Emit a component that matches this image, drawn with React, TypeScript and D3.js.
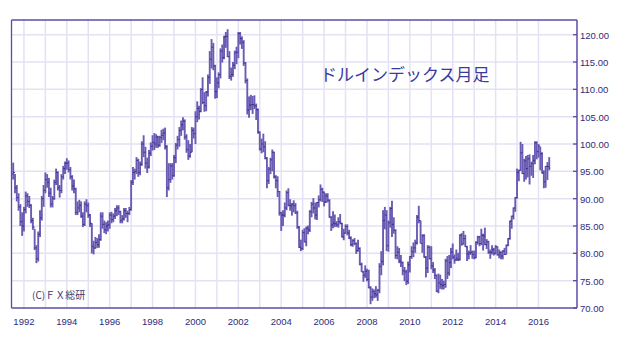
import React from "react";
import * as d3 from "d3";

// Monthly bars of the dollar index, July 1991 .. July 2016 (month start positions)
const startYear = 1991;
const startMonth = 7;
const firstOpen = 94.5;

const highs: number[] = [
  96.6, 94.5, 92.5, 91.0, 89.0, 87.5, // 1991 Jul-Dec
  88.5, 91.3, 91.0, 90.5, 89.0, 86.5, 84.5, 81.5, 84.0, 87.9, 90.5, 92.5, // 1992
  94.8, 94.5, 93.8, 92.0, 90.5, 93.5, 95.5, 95.0, 92.5, 94.5, 96.0, 96.8, // 1993
  97.4, 97.0, 95.8, 94.3, 93.5, 92.0, 89.5, 89.8, 89.5, 87.5, 89.5, 89.9, // 1994
  89.3, 87.2, 85.5, 82.3, 83.0, 82.8, 83.5, 87.5, 87.5, 86.0, 85.7, 86.0, // 1995
  87.5, 87.6, 87.3, 88.3, 88.8, 88.8, 87.8, 87.0, 88.3, 88.3, 87.8, 88.5, // 1996
  93.4, 95.8, 95.5, 97.6, 97.3, 96.8, 100.5, 101.6, 99.5, 97.5, 98.9, 100.3, // 1997
  101.6, 102.0, 101.8, 101.5, 101.5, 102.6, 102.8, 103.0, 99.8, 96.5, 96.5, 96.5, // 1998
  98.0, 100.2, 101.5, 103.1, 104.3, 104.9, 104.5, 101.8, 100.7, 100.0, 103.1, 103.0, // 1999
  106.0, 107.8, 107.0, 110.2, 112.2, 109.5, 109.7, 112.7, 117.0, 119.2, 118.5, 114.5, // 2000
  112.2, 113.1, 117.5, 118.2, 119.8, 120.5, 121.0, 117.0, 114.0, 115.0, 117.1, 117.8, // 2001
  120.5, 120.5, 119.7, 119.0, 115.0, 112.0, 108.7, 109.0, 108.8, 108.9, 107.4, 106.5, // 2002
  102.3, 101.0, 101.9, 100.5, 97.6, 95.8, 97.5, 99.0, 98.6, 94.3, 94.1, 91.4, // 2003
  87.6, 87.9, 89.3, 91.5, 91.9, 89.9, 89.2, 89.7, 89.2, 87.8, 85.0, 82.5, // 2004
  84.3, 84.6, 84.9, 85.1, 87.9, 89.4, 90.1, 89.3, 89.4, 90.6, 92.6, 92.0, // 2005
  91.3, 91.0, 91.0, 89.9, 86.8, 87.7, 87.1, 85.9, 86.6, 87.2, 85.6, 84.5, // 2006
  85.3, 85.3, 84.3, 83.1, 82.6, 82.8, 82.0, 82.5, 81.1, 78.3, 76.8, 77.8, // 2007
  77.2, 77.0, 74.0, 73.6, 73.4, 74.0, 73.5, 78.2, 80.4, 87.9, 88.5, 87.9, // 2008
  86.0, 88.5, 89.6, 86.6, 84.4, 81.3, 81.0, 79.7, 78.5, 77.5, 77.0, 78.5, // 2009
  79.5, 81.3, 82.0, 82.5, 87.0, 88.7, 86.0, 83.5, 83.5, 79.5, 81.5, 81.4, // 2010
  81.3, 78.4, 77.3, 76.1, 76.3, 76.1, 75.3, 75.0, 79.0, 79.5, 79.7, 81.0, // 2011
  81.8, 79.8, 80.7, 80.1, 83.5, 83.7, 84.1, 83.4, 81.4, 80.5, 81.5, 80.5, // 2012
  80.5, 82.2, 83.2, 83.2, 84.5, 83.6, 84.7, 82.6, 82.3, 80.7, 81.5, 81.0, // 2013
  81.5, 81.3, 80.7, 80.4, 80.6, 81.0, 81.6, 82.8, 86.0, 86.9, 88.4, 90.3, // 2014
  95.5, 95.3, 100.4, 100.0, 97.3, 97.8, 98.0, 98.1, 96.8, 98.0, 100.5, 100.5, // 2015
  100.0, 99.5, 98.5, 95.2, 96.0, 96.7, 97.6, // 2016 Jan-Jul
];

const lows: number[] = [
  93.5, 91.0, 89.5, 87.8, 85.0, 83.2, // 1991
  84.0, 87.3, 88.5, 88.3, 85.5, 84.3, 80.6, 78.2, 78.5, 83.0, 86.0, 88.5, // 1992
  91.0, 92.0, 90.3, 88.4, 88.4, 89.8, 92.5, 91.5, 90.2, 91.0, 93.5, 94.5, // 1993
  95.3, 94.8, 93.5, 91.5, 91.0, 87.0, 87.0, 87.5, 86.5, 84.8, 85.0, 87.5, // 1994
  86.5, 84.8, 80.0, 79.8, 80.8, 81.0, 81.0, 82.3, 84.5, 83.7, 83.5, 84.0, // 1995
  84.5, 85.5, 85.7, 86.3, 86.8, 87.0, 85.5, 85.5, 86.0, 86.5, 85.7, 87.0, // 1996
  87.8, 92.5, 93.5, 94.5, 94.0, 94.3, 96.0, 97.6, 95.5, 94.7, 95.5, 97.8, // 1997
  98.8, 98.9, 99.3, 99.3, 99.5, 100.2, 100.7, 99.0, 90.3, 91.5, 92.9, 93.5, // 1998
  94.0, 96.5, 99.0, 99.5, 101.5, 102.5, 100.8, 98.4, 97.1, 97.5, 98.5, 101.0, // 1999
  100.0, 104.0, 104.5, 105.8, 107.3, 105.9, 106.0, 108.7, 111.0, 113.8, 113.5, 108.3, // 2000
  108.4, 110.2, 112.0, 114.9, 115.5, 117.6, 115.9, 111.9, 111.6, 112.3, 113.7, 114.6, // 2001
  115.7, 118.2, 117.4, 114.3, 111.1, 105.4, 104.8, 106.2, 105.5, 106.4, 104.4, 101.9, // 2002
  98.8, 98.3, 98.5, 97.2, 91.9, 92.7, 94.5, 95.0, 93.7, 91.9, 90.3, 86.9, // 2003
  84.1, 85.0, 86.6, 87.9, 88.6, 87.8, 86.9, 87.5, 87.2, 84.5, 81.0, 80.4, // 2004
  80.6, 82.0, 81.3, 83.5, 83.9, 86.6, 87.3, 86.2, 86.1, 88.4, 89.5, 89.4, // 2005
  88.6, 89.2, 89.3, 86.5, 84.1, 84.6, 84.8, 84.8, 84.7, 85.3, 82.9, 82.4, // 2006
  83.6, 83.3, 82.6, 81.3, 81.2, 81.5, 79.9, 80.3, 77.8, 76.6, 74.8, 75.5, // 2007
  74.9, 73.6, 70.7, 71.3, 71.8, 71.9, 71.3, 72.7, 76.0, 77.8, 84.4, 80.4, // 2008
  80.3, 84.7, 83.0, 83.6, 79.0, 78.9, 78.2, 77.5, 76.0, 74.9, 74.2, 74.4, // 2009
  76.5, 79.0, 79.3, 80.1, 81.6, 85.5, 81.8, 80.1, 79.2, 75.6, 76.4, 78.9, // 2010
  77.1, 76.4, 75.3, 72.9, 72.7, 73.5, 73.4, 73.4, 73.7, 75.3, 75.9, 77.3, // 2011
  78.9, 78.1, 78.6, 78.6, 78.7, 81.4, 81.6, 81.2, 78.6, 78.9, 79.7, 79.0, // 2012
  78.9, 79.1, 81.6, 81.3, 81.5, 80.5, 81.5, 80.8, 79.9, 79.0, 79.8, 79.6, // 2013
  79.8, 79.6, 79.1, 78.9, 78.9, 79.7, 79.8, 81.3, 82.5, 84.5, 86.2, 87.6, // 2014
  90.0, 93.2, 95.1, 94.5, 93.1, 93.5, 93.9, 92.6, 94.2, 93.8, 96.3, 97.2, // 2015
  97.5, 95.2, 94.6, 91.9, 92.0, 93.4, 95.2, // 2016
];

const closes: number[] = [
  94.8, 92.0, 90.2, 88.5, 85.8, 85.0, // 1991
  88.0, 90.5, 89.5, 88.8, 86.0, 84.8, 81.0, 79.0, 83.5, 86.5, 90.0, 91.5, // 1992
  93.5, 93.0, 91.0, 89.0, 90.0, 93.0, 94.8, 92.0, 91.5, 94.0, 95.5, 96.5, // 1993
  96.5, 95.3, 94.0, 92.3, 91.8, 87.5, 88.3, 88.8, 86.8, 85.3, 89.0, 88.7, // 1994
  87.0, 85.5, 81.3, 81.0, 82.0, 81.6, 82.5, 86.8, 85.3, 84.3, 85.0, 85.2, // 1995
  87.0, 86.2, 86.8, 87.8, 88.3, 87.6, 86.0, 86.3, 87.8, 87.3, 87.3, 88.0, // 1996
  93.0, 94.8, 95.0, 97.0, 94.8, 96.3, 100.0, 98.5, 96.5, 95.8, 98.3, 99.6, // 1997
  100.3, 100.0, 101.3, 99.8, 101.2, 101.6, 102.0, 99.5, 92.0, 93.5, 96.0, 94.2, // 1998
  97.5, 99.8, 100.8, 102.5, 103.5, 104.2, 101.3, 99.0, 97.8, 98.5, 102.5, 101.9, // 1999
  105.0, 106.5, 106.0, 110.0, 107.6, 107.0, 109.5, 112.2, 115.5, 117.7, 114.3, 109.6, // 2000
  111.2, 112.7, 117.0, 115.8, 119.6, 119.7, 116.0, 112.4, 112.7, 114.4, 116.7, 116.8, // 2001
  120.2, 119.3, 118.6, 114.8, 111.6, 106.2, 107.1, 107.2, 107.2, 107.0, 106.3, 102.2, // 2002
  99.1, 100.0, 99.5, 97.4, 93.3, 95.4, 97.1, 98.5, 94.0, 93.3, 91.3, 87.4, // 2003
  87.0, 87.0, 88.3, 91.1, 88.8, 88.7, 89.0, 88.7, 87.4, 84.8, 81.1, 80.9, // 2004
  83.8, 82.1, 84.6, 84.3, 87.6, 89.0, 88.3, 87.0, 89.3, 89.8, 91.7, 91.2, // 2005
  89.4, 90.5, 89.7, 86.6, 85.2, 85.5, 85.4, 85.2, 85.8, 85.5, 83.0, 83.7, // 2006
  84.9, 83.7, 82.8, 81.6, 82.3, 81.8, 80.5, 80.9, 78.0, 76.6, 76.0, 76.7, // 2007
  75.2, 73.7, 72.0, 73.0, 72.6, 72.4, 73.2, 77.6, 78.5, 86.0, 87.0, 81.4, // 2008
  85.6, 88.2, 85.3, 84.2, 79.6, 80.2, 78.6, 78.3, 76.8, 76.6, 74.9, 77.9, // 2009
  79.4, 80.3, 81.0, 81.9, 86.6, 86.0, 81.8, 83.2, 79.3, 77.3, 81.1, 79.0, // 2010
  77.7, 76.9, 76.0, 73.1, 74.6, 74.3, 74.1, 74.3, 78.6, 76.4, 78.3, 80.2, // 2011
  79.3, 78.8, 79.0, 78.8, 83.3, 81.7, 82.7, 81.2, 79.9, 80.1, 80.2, 79.8, // 2012
  79.2, 82.0, 83.0, 81.8, 83.3, 83.2, 81.6, 82.1, 80.2, 80.2, 80.7, 80.0, // 2013
  81.2, 79.7, 80.1, 79.5, 80.4, 79.8, 81.5, 82.7, 85.9, 86.8, 88.3, 90.2, // 2014
  94.8, 95.2, 98.4, 94.6, 96.9, 95.5, 97.3, 95.9, 96.4, 97.0, 100.2, 98.6, // 2015
  99.6, 98.2, 94.7, 93.1, 95.9, 95.9, 95.6, // 2016
];

const yTicks: number[] = [70, 75, 80, 85, 90, 95, 100, 105, 110, 115, 120];
const labelYears: number[] = [1992, 1994, 1996, 1998, 2000, 2002, 2004, 2006, 2008, 2010, 2012, 2014, 2016];
const gridYears: number[] = d3.range(1992, 2017);

const title = "ドルインデックス月足";
const credit = "(C)ＦＸ総研";

const LEFT = 11.5;
const RIGHT = 577;
const TOP = 20;
const BOTTOM = 308;

export default function App() {
  const x = d3.scaleLinear().domain([1991.42, 1991.42 + (RIGHT - LEFT) / 21.44]).range([LEFT, RIGHT]);
  const y = d3.scaleLinear().domain([70, 70 + (BOTTOM - TOP) / 5.466]).range([BOTTOM, TOP]);

  const bars = closes.map((c, i) => {
    const t = startYear + (startMonth - 1 + i) / 12;
    const open = i === 0 ? firstOpen : closes[i - 1];
    return { t, h: highs[i], l: lows[i], o: open, c };
  });

  const bodyColor = "#6a5bb3";
  const tickColor = "#3b2d80";
  const axisColor = "#5b4ba8";
  const gridColor = "#e4e1f4";
  const textColor = "#2f2b7c";
  const font = "'Liberation Sans', Arial, sans-serif";

  return (
    <svg
      width={620}
      height={340}
      style={{ position: "absolute", left: 0, top: 0, background: "#ffffff" }}
    >
      <rect x={0} y={0} width={620} height={340} fill="#ffffff" />
      {/* grid */}
      {yTicks.filter((v) => v > 70).map((v) => (
        <line key={"hg" + v} x1={LEFT} x2={RIGHT} y1={y(v)} y2={y(v)} stroke={gridColor} strokeWidth={1.5} />
      ))}
      {gridYears.map((yr) => (
        <line key={"vg" + yr} x1={x(yr)} x2={x(yr)} y1={TOP} y2={BOTTOM} stroke={gridColor} strokeWidth={1.5} />
      ))}
      {/* bars: high-low ranges */}
      <g stroke={bodyColor} strokeWidth={1.9} fill="none">
        {bars.map((b, i) => {
          const cx = x(b.t);
          return <line key={"r" + i} x1={cx} x2={cx} y1={y(b.h)} y2={y(b.l)} />;
        })}
      </g>
      {/* open / close ticks */}
      <g stroke={tickColor} strokeWidth={1} fill="none">
        {bars.map((b, i) => {
          const cx = x(b.t);
          return (
            <g key={"t" + i}>
              <line x1={cx - 1} x2={cx} y1={y(b.o)} y2={y(b.o)} />
              <line x1={cx} x2={cx + 1} y1={y(b.c)} y2={y(b.c)} />
            </g>
          );
        })}
      </g>
      {/* frame */}
      <line x1={LEFT} x2={RIGHT} y1={TOP} y2={TOP} stroke={axisColor} strokeWidth={1.3} />
      <line x1={LEFT} x2={RIGHT} y1={BOTTOM} y2={BOTTOM} stroke={axisColor} strokeWidth={1.3} />
      <line x1={LEFT} x2={LEFT} y1={TOP} y2={BOTTOM} stroke={axisColor} strokeWidth={1.3} />
      <line x1={RIGHT} x2={RIGHT} y1={TOP} y2={BOTTOM} stroke={axisColor} strokeWidth={1.5} />
      {/* y axis ticks and labels */}
      {yTicks.map((v) => (
        <g key={"yt" + v}>
          <line x1={RIGHT - 4} x2={RIGHT} y1={y(v)} y2={y(v)} stroke={axisColor} strokeWidth={1.3} />
          <text
            x={RIGHT + 3}
            y={y(v) + 1.5}
            dominantBaseline="middle"
            fontFamily={font}
            fontSize={9.5}
            fill={textColor}
          >
            {v.toFixed(2)}
          </text>
        </g>
      ))}
      {/* x labels */}
      {labelYears.map((yr) => (
        <text
          key={"xl" + yr}
          x={x(yr)}
          y={325}
          textAnchor="middle"
          fontFamily={font}
          fontSize={9.5}
          fill={textColor}
        >
          {yr}
        </text>
      ))}
      {/* title */}
      <text
        x={320}
        y={76}
        dominantBaseline="middle"
        fontFamily="'Noto Sans CJK JP', sans-serif"
        fontSize={17}
        fill="#3a3a9e"
      >
        {title}
      </text>
      <text
        x={32}
        y={296}
        dominantBaseline="middle"
        fontFamily="'Noto Sans CJK JP', 'Liberation Sans', sans-serif"
        fontSize={10}
        fill="#3a3a70"
      >
        {credit}
      </text>
    </svg>
  );
}
